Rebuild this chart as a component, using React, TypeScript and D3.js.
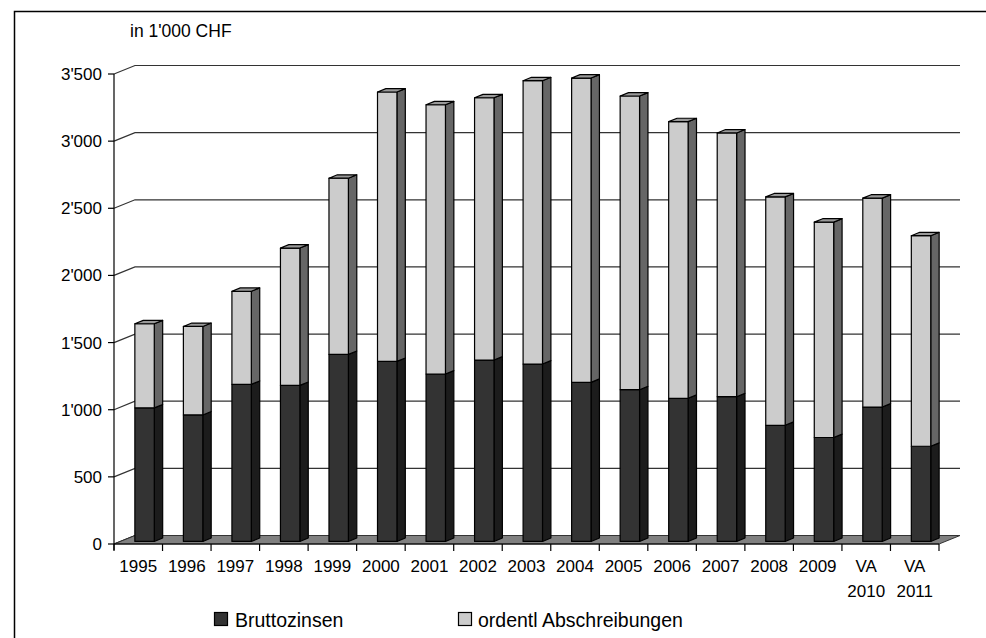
import * as d3 from 'd3';

const years = ['1995', '1996', '1997', '1998', '1999', '2000', '2001', '2002', '2003', '2004', '2005', '2006', '2007', '2008', '2009', 'VA 2010', 'VA 2011'];
const bruttozinsen = [995, 942, 1170, 1162, 1393, 1341, 1247, 1351, 1321, 1185, 1130, 1066, 1078, 865, 774, 1001, 709];
const abschreibungen = [626, 659, 693, 1023, 1312, 2006, 2005, 1953, 2110, 2266, 2187, 2060, 1964, 1701, 1604, 1556, 1568];
const yTicks = [0, 500, 1000, 1500, 2000, 2500, 3000, 3500];

const FONT = "'Liberation Sans', Arial, sans-serif";

// 3D offsets (full depth of the floor)
const DX = 21;
const DY = -8.5;
const D_FRONT = 0.3;
const D_BACK = 0.7;

const left = 114;
const right = 939;
const bottom = 544;
const top = 74;

const fmt = (v: number) => {
  const s = String(v);
  return s.length > 3 ? s.slice(0, s.length - 3) + "'" + s.slice(s.length - 3) : s;
};

export default function App() {
  const x = d3.scaleBand<string>().domain(years).range([left, right]).paddingInner(0.6).paddingOuter(0.3);
  const y = d3.scaleLinear().domain([0, 3500]).range([bottom, top]);
  const step = x.step();
  const bw = x.bandwidth();

  const fx = DX * D_FRONT;
  const fy = DY * D_FRONT;
  const sx = DX * (D_BACK - D_FRONT);
  const sy = DY * (D_BACK - D_FRONT);

  const pts = (p: [number, number][]) => p.map((q) => q.join(',')).join(' ');

  const segment = (cat: string, v0: number, v1: number, front: string, side: string, topFill: string | null, key: string) => {
    const x0 = (x(cat) as number) + fx;
    const x1 = x0 + bw;
    const y0 = y(v0) + fy;
    const y1 = y(v1) + fy;
    return (
      <g key={key} stroke="#000" strokeWidth={1.2} strokeLinejoin="round">
        <polygon points={pts([[x1, y0], [x1 + sx, y0 + sy], [x1 + sx, y1 + sy], [x1, y1]])} fill={side} />
        <rect x={x0} y={y1} width={bw} height={y0 - y1} fill={front} />
        {topFill && (
          <polygon points={pts([[x0, y1], [x0 + sx, y1 + sy], [x1 + sx, y1 + sy], [x1, y1]])} fill={topFill} />
        )}
      </g>
    );
  };

  return (
    <svg width={986} height={638} style={{ position: 'absolute', left: 0, top: 0, display: 'block', background: '#fff' }} fontFamily={FONT}>
      <rect x={14.5} y={11.5} width={1000} height={700} fill="#fff" stroke="#000" strokeWidth={1.5} />

      <text x={130} y={37} fontSize={17.5}>in 1'000 CHF</text>

      {/* gridlines on the back wall */}
      {yTicks.map((t) => (
        <g key={t} stroke={t === 0 ? '#000' : '#333'} strokeWidth={1.2} fill="none">
          <line x1={left - 6} x2={left} y1={y(t)} y2={y(t)} stroke="#000" />
          <polyline points={pts([[left, y(t)], [left + DX, y(t) + DY], [right + DX, y(t) + DY]])} />
        </g>
      ))}
      {yTicks.map((t) => (
        <text key={'l' + t} x={102} y={y(t) + 6} fontSize={17} textAnchor="end">{fmt(t)}</text>
      ))}

      {/* floor */}
      <polygon
        points={pts([[left, bottom], [left + DX, bottom + DY], [right + DX, bottom + DY], [right, bottom]])}
        fill="#808080"
        stroke="#333"
        strokeWidth={1}
      />
      <line x1={left} x2={left} y1={top} y2={bottom + 6} stroke="#000" strokeWidth={1.2} />
      <line x1={left} x2={right} y1={bottom} y2={bottom} stroke="#000" strokeWidth={1.2} />
      {d3.range(years.length + 1).map((i) => (
        <line key={'t' + i} x1={left + i * step} x2={left + i * step} y1={bottom} y2={bottom + 7} stroke="#000" strokeWidth={1.2} />
      ))}

      {/* bars */}
      {years.map((c, i) => (
        <g key={c}>
          {segment(c, 0, bruttozinsen[i], '#333333', '#1c1c1c', null, 'a')}
          {segment(c, bruttozinsen[i], bruttozinsen[i] + abschreibungen[i], '#cccccc', '#666666', '#999999', 'b')}
        </g>
      ))}

      {/* category labels */}
      {years.map((c) => {
        const cx = (x(c) as number) + bw / 2;
        const parts = c.split(' ');
        return (
          <text key={'x' + c} x={cx} y={572} fontSize={17} textAnchor="middle">
            {parts.map((p, j) => (
              <tspan key={j} x={cx} dy={j === 0 ? 0 : 24.5}>{p}</tspan>
            ))}
          </text>
        );
      })}

      {/* legend */}
      <rect x={214.5} y={612.5} width={13} height={13} fill="#333333" stroke="#000" strokeWidth={1.2} />
      <text x={235} y={627} fontSize={19.5}>Bruttozinsen</text>
      <rect x={458.5} y={612.5} width={13} height={13} fill="#cccccc" stroke="#000" strokeWidth={1.2} />
      <text x={478} y={627} fontSize={19.5}>ordentl Abschreibungen</text>
    </svg>
  );
}
